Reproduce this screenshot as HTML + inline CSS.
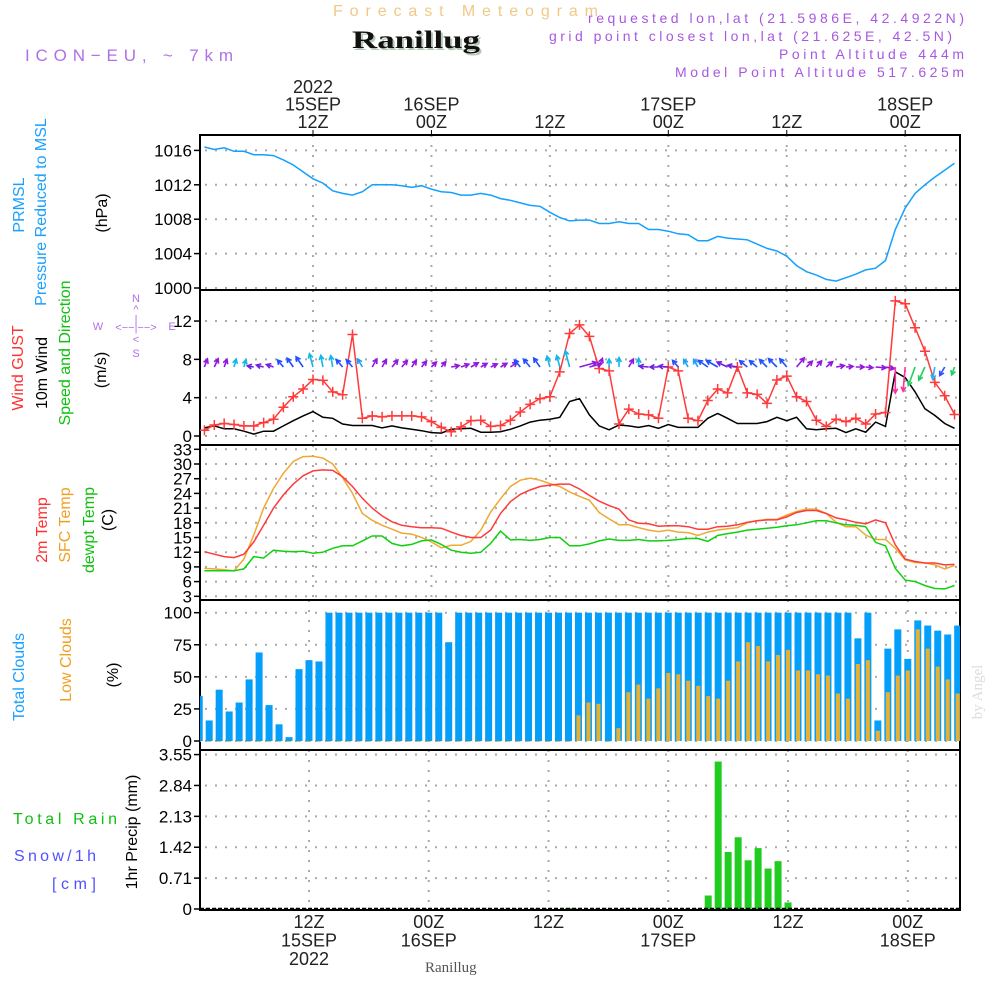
<!DOCTYPE html>
<html><head><meta charset="utf-8"><style>
html,body{margin:0;padding:0;background:#fff;}
svg{display:block;font-family:"Liberation Sans",sans-serif;}
</style></head><body>
<svg id="chart" width="1000" height="1000" viewBox="0 0 1000 1000" xmlns="http://www.w3.org/2000/svg">
<rect x="0" y="0" width="1000" height="1000" fill="#fff"/>
<text x="333" y="16" font-size="16" fill="#f2c886" textLength="265" lengthAdjust="spacing">Forecast Meteogram</text>
<text x="354" y="50" font-size="25" font-weight="bold" font-family="Liberation Serif,serif" fill="#b8c8b8" textLength="128" lengthAdjust="spacingAndGlyphs">Ranillug</text>
<text x="352" y="48" font-size="25" font-weight="bold" font-family="Liberation Serif,serif" fill="#111" textLength="128" lengthAdjust="spacingAndGlyphs">Ranillug</text>
<text x="25" y="61" font-size="17" fill="#b070e8" textLength="208" lengthAdjust="spacing">ICON−EU, ~ 7km</text>
<g font-size="14" fill="#a858e0">
<text x="588" y="23" textLength="376" lengthAdjust="spacing">requested lon,lat (21.5986E, 42.4922N)</text>
<text x="549" y="41" textLength="403" lengthAdjust="spacing">grid point closest lon,lat (21.625E, 42.5N)</text>
<text x="779" y="59" textLength="185" lengthAdjust="spacing">Point Altitude 444m</text>
<text x="675" y="77" textLength="289" lengthAdjust="spacing">Model Point Altitude 517.625m</text>
</g>
<g id="g" ></g>
<g font-size="16">
<text transform="translate(24,205) rotate(-90)" text-anchor="middle" fill="#1aa0ff">PRMSL</text>
<text transform="translate(46,212) rotate(-90)" text-anchor="middle" fill="#1aa0ff">Pressure Reduced to MSL</text>
<text transform="translate(107,213) rotate(-90)" text-anchor="middle" fill="#000">(hPa)</text>
<text transform="translate(23,368) rotate(-90)" text-anchor="middle" fill="#ff3030">Wind GUST</text>
<text transform="translate(47,373) rotate(-90)" text-anchor="middle" fill="#000">10m Wind</text>
<text transform="translate(70,353) rotate(-90)" text-anchor="middle" fill="#10c010">Speed and Direction</text>
<text transform="translate(106,370) rotate(-90)" text-anchor="middle" fill="#000">(m/s)</text>
<text transform="translate(47,530) rotate(-90)" text-anchor="middle" fill="#ff3030">2m Temp</text>
<text transform="translate(70,525) rotate(-90)" text-anchor="middle" fill="#f0a020">SFC Temp</text>
<text transform="translate(94,530) rotate(-90)" text-anchor="middle" fill="#10c010">dewpt Temp</text>
<text transform="translate(113,520) rotate(-90)" text-anchor="middle" fill="#000">(C)</text>
<text transform="translate(24,677) rotate(-90)" text-anchor="middle" fill="#1aa0ff">Total Clouds</text>
<text transform="translate(71,660) rotate(-90)" text-anchor="middle" fill="#f0a020">Low Clouds</text>
<text transform="translate(118,675) rotate(-90)" text-anchor="middle" fill="#000">(%)</text>
<text x="13" y="824" fill="#10c010" textLength="104" lengthAdjust="spacing">Total  Rain</text>
<text x="14" y="861" fill="#5050ff" textLength="82" lengthAdjust="spacing">Snow/1h</text>
<text x="52" y="889" fill="#5050ff" textLength="44" lengthAdjust="spacing">[cm]</text>
<text transform="translate(137,832) rotate(-90)" text-anchor="middle" fill="#000">1hr Precip (mm)</text>
</g>
<g fill="#b070e8" font-size="11" text-anchor="middle">
<text x="136" y="302">N</text><text x="136" y="313">^</text><text x="136" y="323">|</text>
<text x="98" y="330">W</text><text x="136" y="331">&lt;−−|−−&gt;</text><text x="172" y="330">E</text>
<text x="136" y="343">&lt;</text><text x="136" y="357">S</text>
</g>
<text transform="translate(982,692) rotate(-90)" text-anchor="middle" font-size="15" font-family="Liberation Serif,serif" fill="#dcdcdc">by Angel</text>
<text x="425" y="972" font-size="15" font-family="Liberation Serif,serif" fill="#555">Ranillug</text>
</svg>
<script>
// ---- data (hourly, hour index 1..77 from 00Z 15SEP) ----
const pressure = [1016.4,1016.1,1016.3,1015.9,1015.9,1015.5,1015.5,1015.4,1014.9,1014.3,1013.5,1012.7,1012.2,1011.3,1011.0,1010.8,1011.2,1012.0,1012.0,1012.0,1011.9,1011.7,1011.9,1011.5,1011.2,1011.1,1010.8,1010.8,1011.0,1010.8,1010.4,1010.2,1009.9,1009.6,1009.5,1008.8,1008.2,1007.8,1007.9,1007.9,1007.5,1007.5,1007.7,1007.5,1007.5,1006.8,1006.8,1006.6,1006.3,1006.2,1005.5,1005.5,1006.0,1005.8,1005.7,1005.6,1005.1,1004.6,1004.3,1003.7,1002.6,1001.9,1001.5,1001.0,1000.8,1001.2,1001.6,1002.1,1002.3,1003.2,1006.8,1009.3,1011.0,1012.0,1012.9,1013.7,1014.5];
const gust = [0.6,1.15,1.3,1.2,1.05,1.05,1.4,1.75,3.0,4.1,4.9,5.9,5.8,4.6,4.3,10.6,1.85,2.1,2.0,2.1,2.1,2.1,2.0,1.5,0.9,0.45,0.95,1.6,1.65,1.0,1.1,1.65,2.5,3.3,3.9,4.1,6.7,10.7,11.6,10.4,7.05,6.8,1.25,2.8,2.3,2.2,1.85,7.2,6.8,1.85,1.6,3.7,4.9,4.5,7.2,4.5,4.35,3.4,5.85,6.25,4.1,3.6,1.65,1.0,1.75,1.5,1.85,1.25,2.3,2.45,14.1,13.8,11.3,8.85,5.6,4.2,2.25];
const wind10 = [0.85,1.05,0.75,0.75,0.5,0.2,0.5,0.5,1.05,1.6,2.1,2.55,1.95,1.85,1.25,1.1,1.1,1.1,0.85,1.05,0.85,0.7,0.55,0.35,0.3,0.7,0.75,0.8,0.4,0.4,0.45,0.7,1.05,1.45,1.65,1.75,1.95,3.6,3.9,2.2,1.05,0.65,1.15,1.05,0.9,1.1,0.8,1.2,0.9,0.9,0.9,1.85,2.35,1.85,1.3,1.3,1.3,1.5,1.95,1.6,1.95,0.75,0.65,0.75,0.8,0.35,0.75,0.4,1.45,1.0,6.7,6.1,4.6,2.85,2.15,1.3,0.8];
const windDir = [20,25,20,15,15,-80,-75,-70,-40,-35,-35,-15,-10,-10,-40,-40,-30,30,30,40,40,35,40,45,40,80,70,60,60,65,60,55,-40,-40,-35,-15,-15,-15,75,75,20,0,0,30,0,-85,-90,-85,-40,-30,-30,-55,-60,-65,-80,-50,-50,-45,-45,-40,40,45,40,50,80,85,90,95,95,100,180,185,200,205,190,210,200];
const tmp2m = [12.1,11.6,11.1,10.9,11.6,14.1,17.5,21.0,23.7,25.9,27.6,28.6,28.8,28.7,27.4,25.4,23.0,21.0,19.4,18.2,17.5,17.2,17.0,17.0,16.9,16.1,15.4,15.0,15.0,16.5,19.9,22.3,23.8,24.7,25.4,25.7,25.9,25.9,24.9,23.6,22.4,21.5,20.8,18.6,17.9,17.8,17.3,17.4,17.4,17.2,16.7,16.7,17.2,17.3,17.6,18.1,18.4,18.6,18.6,19.2,20.1,20.5,20.5,19.9,19.0,18.6,18.1,17.8,18.6,18.0,13.5,10.6,10.1,9.8,9.8,9.4,9.5];
const tmpSfc = [8.7,8.6,8.4,8.2,10.6,15.5,21.0,25.0,28.1,30.5,31.5,31.6,31.2,30.0,27.2,24.0,19.9,18.5,17.5,16.7,15.9,15.7,15.0,14.1,12.9,13.4,13.4,14.2,16.5,20.2,22.9,25.4,26.7,27.1,26.7,26.0,25.4,24.3,23.4,22.6,20.1,18.8,17.6,17.6,17.0,16.5,16.2,16.5,16.1,16.0,15.4,16.1,16.5,16.8,17.0,18.0,18.4,18.7,18.7,19.6,20.3,20.8,20.8,19.9,18.1,17.2,17.2,15.5,14.6,14.6,12.8,10.4,9.9,9.8,9.4,8.6,9.3];
const dewpt = [8.2,8.2,8.2,8.2,8.6,11.1,10.8,12.4,12.2,12.1,12.2,11.8,12.0,12.8,13.3,13.3,14.3,15.3,15.3,13.8,13.3,13.6,14.3,14.5,13.6,12.4,12.0,11.8,12.0,13.8,16.3,14.5,14.6,14.4,14.6,15.0,15.0,13.3,13.3,13.7,14.3,14.7,14.4,14.4,14.6,14.3,14.3,14.4,14.6,14.8,14.8,14.2,15.4,15.8,16.1,16.5,16.7,16.9,17.1,17.4,17.6,18.0,18.4,18.4,18.0,17.6,17.5,17.2,14.0,13.3,8.7,6.3,6.0,5.2,4.6,4.5,5.2];
const totalClouds = [35,16,40,23,30,48,69,28,13,3,56,63,62,100,100,100,100,100,100,100,100,100,100,100,100,77,100,100,100,100,100,100,100,100,100,100,100,100,100,100,100,100,100,100,100,100,100,100,100,100,100,100,100,100,100,100,100,100,100,100,100,100,100,100,100,100,80,100,16,72,87,64,94,90,86,83,90];
const lowClouds = [0,0,0,0,0,0,0,0,0,0,0,0,0,0,0,0,0,0,0,0,0,0,0,0,0,0,0,0,0,0,0,0,0,0,0,0,0,0,20,30,29,0,10,38,44,33,41,53,52,47,43,35,33,47,62,77,74,62,67,71,55,55,52,51,37,33,60,63,8,38,51,55,87,72,58,48,37];
const precip = [0,0,0,0,0,0,0,0,0,0,0,0,0,0,0,0,0,0,0,0,0,0,0,0,0,0,0,0,0,0,0,0,0,0,0,0,0,0.02,0,0,0,0,0,0,0,0,0,0,0,0,0,0.31,3.39,1.31,1.65,1.12,1.40,0.93,1.10,0.15,0,0,0,0,0,0,0,0,0,0,0,0,0,0,0,0,0];
const pTicks = [1000,1004,1008,1012,1016];
const wTicks = [0,4,8,12];
const tTicks = [3,6,9,12,15,18,21,24,27,30,33];
const cTicks = [0,25,50,75,100];
const rTicks = [0,0.71,1.42,2.13,2.84,3.55];
const timeTicks = [12,24,36,48,60,72];
const topLabels = [["2022","15SEP","12Z"],["","16SEP","00Z"],["","","12Z"],["","17SEP","00Z"],["","","12Z"],["","18SEP","00Z"]];
const botLabels = [["12Z","15SEP","2022"],["00Z","16SEP",""],["12Z","",""],["00Z","17SEP",""],["12Z","",""],["00Z","18SEP",""]];

// ---- scales ----
const X0=200, X1=960;
const xt = h => 313 + (h-12)*9.87;
const xb = h => 309 + (h-12)*9.98;
const yP = v => 288 - (v-1000)*8.6;
const yW = v => 436 - v*9.58;
const yT = v => 596.3 - (v-3)*4.9;
const yC = v => 741 - v*1.283;
const yR = v => 909 - v*43.5;
const panels = [
 {top:135,bot:290,ys:yP,ticks:pTicks,fmt:v=>String(v),xs:xt,name:'pressure'},
 {top:290,bot:445,ys:yW,ticks:wTicks,fmt:v=>String(v),xs:xt,name:'wind'},
 {top:445,bot:600,ys:yT,ticks:tTicks,fmt:v=>String(v),xs:xt,name:'temperature'},
 {top:600,bot:750,ys:yC,ticks:cTicks,fmt:v=>String(v),xs:xb,name:'clouds'},
 {top:750,bot:910,ys:yR,ticks:rTicks,fmt:v=>v===0?'0':v.toFixed(2),xs:xb,name:'precip'}
];
const NS='http://www.w3.org/2000/svg';
const root=document.getElementById('g');
function mk(tag,attrs,parent){const e=document.createElementNS(NS,tag);for(const k in attrs)e.setAttribute(k,attrs[k]);(parent||root).appendChild(e);return e;}
const defs=mk('defs',{});
panels.forEach((p,i)=>{const c=mk('clipPath',{id:'clip'+i},defs);mk('rect',{x:X0,y:p.top,width:X1-X0,height:p.bot-p.top},c);});

// grids & axes
panels.forEach((p,i)=>{
  const grp=mk('g',{});
  
  
  p.ticks.forEach(t=>{
    const y=p.ys(t);
    const gl=mk('line',{x1:X0+5,x2:X1,y1:y,y2:y,stroke:'#aaa','stroke-width':2,'stroke-dasharray':'2,8'},grp);
    
    
    mk('line',{x1:X0-6,x2:X0,y1:y,y2:y,stroke:'#000','stroke-width':1.5},grp);
    const tl=mk('text',{x:X0-8,y:y+6,'text-anchor':'end','font-size':17,fill:'#000'},grp);
    tl.textContent=p.fmt(t);
    
    
  });
  timeTicks.forEach(h=>{
    const x=p.xs(h);
    mk('line',{x1:x,x2:x,y1:p.top,y2:p.bot,stroke:'#aaa','stroke-width':2,'stroke-dasharray':'2,8'},grp);
  });
  mk('rect',{x:X0,y:p.top,width:X1-X0,height:p.bot-p.top,fill:'none',stroke:'#000','stroke-width':2},grp);
});
// top time axis labels
timeTicks.forEach((h,i)=>{
  const x=xt(h);
  mk('line',{x1:x,x2:x,y1:130,y2:135,stroke:'#000','stroke-width':1});
  topLabels[i].forEach((s,j)=>{ if(!s) return;
    const t=mk('text',{x:x,y:93+j*17.5,'text-anchor':'middle','font-size':18,fill:'#222'});
    t.textContent=s;
    
    
  });
  const xb2=xb(h);
  botLabels[i].forEach((s,j)=>{ if(!s) return;
    const t=mk('text',{x:xb2,y:928+j*18.5,'text-anchor':'middle','font-size':18,fill:'#222'});
    t.textContent=s;
    
    
  });
});
function line(arr,xs,ys,color,clip,name,w){
  const pts=arr.map((v,i)=>xs(i+1).toFixed(1)+','+ys(v).toFixed(1)).join(' ');
  const l=mk('polyline',{points:pts,fill:'none',stroke:color,'stroke-width':w||1.5,'clip-path':'url(#clip'+clip+')'});
  
  
  return l;
}
// pressure
line(pressure,xt,yP,'#14a0ff',0,'pressure-line');
// wind
line(wind10,xt,yW,'#000',1,'wind-10m-line');
line(gust,xt,yW,'#ff3a3a',1,'wind-gust-line');
gust.forEach((v,i)=>{
  const x=xt(i+1),y=yW(v);
  const m=mk('path',{d:`M${x-5},${y}H${x+5}M${x},${y-5}V${y+5}`,stroke:'#ff3a3a','stroke-width':1.5,'clip-path':'url(#clip1)'});
  
  
});
function dirColor(d){
  d=((d%360)+360)%360;
  if(d>=20&&d<=110) return '#9018e0';
  if(d>110&&d<170) return '#ff20a0';
  if(d>=170&&d<190) return '#ff30a0';
  if(d>=190&&d<200) return '#20b0ff';
  if(d>=200&&d<210) return '#20d060';
  if(d>=210&&d<260) return '#3050ff';
  if(d>=260&&d<300) return '#7020e0';
  if(d>=300&&d<330) return '#2050ff';
  if(d>=330&&d<345) return '#1aa0ff';
  return '#10b8e8';
}
windDir.forEach((d,i)=>{
  const x=xt(i+1),y=yW(7.2);
  const L=6+wind10[i]*3;
  const r=d*Math.PI/180;
  const tx=x+Math.sin(r)*L, ty=y-Math.cos(r)*L;
  const a1=r+Math.PI-0.5,a2=r+Math.PI+0.5;
  const c=dirColor(d);
  const ar=mk('path',{d:`M${x.toFixed(1)},${y.toFixed(1)}L${tx.toFixed(1)},${ty.toFixed(1)}M${(tx+Math.sin(a1)*5).toFixed(1)},${(ty-Math.cos(a1)*5).toFixed(1)}L${tx.toFixed(1)},${ty.toFixed(1)}L${(tx+Math.sin(a2)*5).toFixed(1)},${(ty-Math.cos(a2)*5).toFixed(1)}`,stroke:c,'stroke-width':1.6,fill:'none','clip-path':'url(#clip1)'});
  
  
});
// temperature
line(tmpSfc,xt,yT,'#f0a830',2,'sfc-temp-line');
line(tmp2m,xt,yT,'#ff3a3a',2,'temp-2m-line');
line(dewpt,xt,yT,'#10d010',2,'dewpoint-line');
// clouds
totalClouds.forEach((v,i)=>{
  const x=xb(i+1);
  const b=mk('rect',{x:x-3.5,y:yC(v),width:7,height:yC(0)-yC(v),fill:'#049ffa','clip-path':'url(#clip3)'});
  
  
});
lowClouds.forEach((v,i)=>{
  const x=xb(i+1);
  const b=mk('rect',{x:x-2,y:yC(v),width:4,height:Math.max(yC(0)-yC(v),0.8),fill:'#e8b030','clip-path':'url(#clip3)'});
  
  
});
// precip
precip.forEach((v,i)=>{
  if(v<=0) return;
  const x=xb(i+1);
  const b=mk('rect',{x:x-3.5,y:yR(v),width:7,height:yR(0)-yR(v),fill:'#20cc20','clip-path':'url(#clip4)'});
  
  
});
mk('line',{x1:X0,x2:X1,y1:yR(0)-0.5,y2:yR(0)-0.5,stroke:'#000','stroke-width':1.5,'stroke-dasharray':'4,2'});
</script>
</body></html>
